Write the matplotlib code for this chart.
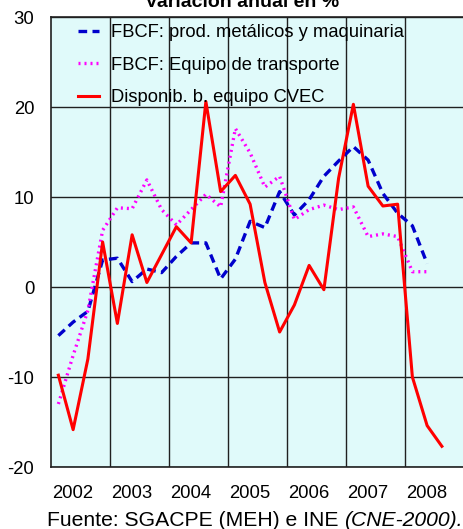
import numpy as np
import matplotlib
matplotlib.use('Agg')
import matplotlib.pyplot as plt

plt.rcParams['font.family'] = ['Liberation Sans', 'DejaVu Sans']
plt.rcParams['axes.unicode_minus'] = False

# quarterly data, 2002 Q1 onwards
years = ['2002', '2003', '2004', '2005', '2006', '2007', '2008']
labels = ['FBCF: prod. metálicos y maquinaria',
          'FBCF: Equipo de transporte',
          'Disponib. b. equipo CVEC']
maquinaria = [-5.4, -3.9, -2.7, 3.0, 3.2, 0.6, 2.0, 1.6, 3.4, 4.9, 4.9, 0.9,
              3.1, 7.3, 6.6, 10.6, 8.0, 9.7, 12.3, 14.0, 15.6, 14.1, 10.4,
              8.2, 6.8, 2.6]
transporte = [-13.0, -7.6, -2.6, 6.3, 8.8, 8.7, 11.9, 8.6, 6.9, 8.6, 10.3,
              8.9, 17.6, 14.9, 11.1, 12.3, 7.5, 8.6, 9.1, 8.6, 8.9, 5.6, 5.9,
              5.6, 1.7, 1.7]
cvec = [-9.8, -15.85, -8.0, 5.0, -4.05, 5.8, 0.5, 3.6, 6.7, 4.9, 20.6, 10.6,
        12.4, 9.2, 0.5, -5.0, -2.0, 2.4, -0.3, 12.1, 20.3, 11.2, 9.0, 9.2,
        -10.0, -15.4, -17.7]


def qpos(n):
    return (np.arange(n) + 0.5) / 4.0


fig = plt.figure(figsize=(4.64, 5.29), dpi=100)
ax = fig.add_axes([51 / 464, 1 - 467 / 529, 1 - 51 / 464, 450 / 529])
ax.set_facecolor('#E0FAFA')

ax.plot(qpos(len(maquinaria)), maquinaria, color='#0000CC', lw=2.4,
        ls=(0, (2.6, 1.6)), label=labels[0], zorder=3)
ax.plot(qpos(len(transporte)), transporte, color='#FF00FF', lw=2.4,
        ls=(0, (0.6, 1.2)), label=labels[1], zorder=3)
ax.plot(qpos(len(cvec)), cvec, color='#FF0000', lw=2.2,
        label=labels[2], zorder=4)

ax.set_xlim(0, 7)
ax.set_ylim(-20, 30)
ax.set_yticks(np.arange(-20, 31, 10))
ax.set_xticks(np.arange(1, 7))
ax.set_xticklabels([])
ax.set_xticks(np.arange(7) + 0.37, minor=True)
ax.set_xticklabels(years, minor=True)
ax.tick_params(axis='x', which='both', length=0, pad=13, labelsize=13.3)
ax.tick_params(axis='y', length=0, pad=12, labelsize=13.3)
ax.grid(True, color='#202020', lw=1.0)
ax.set_axisbelow(True)
for s in ['left', 'bottom', 'top']:
    ax.spines[s].set_color('#202020')
    ax.spines[s].set_linewidth(1.2)
ax.spines['right'].set_visible(False)

ax.legend(loc='upper left', bbox_to_anchor=(78 / 464, 1 - 24 / 529),
          bbox_transform=fig.transFigure, frameon=False, fontsize=13.2,
          borderpad=0, borderaxespad=0, handlelength=1.15,
          handletextpad=0.65, labelspacing=0.85)

fig.text(242 / 464, 1 - 7 / 529, 'Variación anual en %', ha='center',
         va='baseline', fontsize=14, fontweight='bold')
t = fig.text(47 / 464, 1 - 526 / 529, 'Fuente: SGACPE (MEH) e INE ',
             ha='left', va='baseline', fontsize=15.2)
fig.canvas.draw()
bb = t.get_window_extent()
fig.text(bb.x1 / 464 / fig.dpi * 100, 1 - 526 / 529, '(CNE-2000).',
         ha='left', va='baseline', fontsize=15.2, style='italic')

fig.savefig('out.png', dpi=100)
